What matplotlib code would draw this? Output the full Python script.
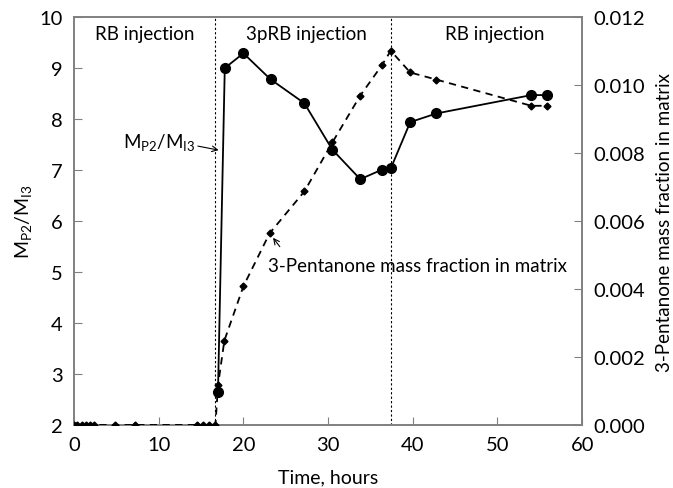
import matplotlib
matplotlib.use('Agg')
import matplotlib.pyplot as plt
from matplotlib.ticker import FormatStrFormatter

plt.rcParams['font.family'] = ['Lato', 'DejaVu Sans']
plt.rcParams['mathtext.default'] = 'regular'

# M_P2/M_I3 ratio (circles, solid)
ratio_t = [17.0, 17.8, 20.0, 23.2, 27.2, 30.5, 33.8, 36.4, 37.4, 39.7, 42.8, 54.0, 55.9]
ratio_v = [2.65, 9.0, 9.29, 8.78, 8.31, 7.40, 6.82, 7.01, 7.03, 7.94, 8.11, 8.47, 8.47]

# 3-pentanone mass fraction (diamonds, dashed)
pent_t = [0.0, 0.4, 0.9, 1.4, 1.9, 2.3, 4.8, 7.2, 14.5, 15.2, 15.9, 16.7,
          17.0, 17.75, 20.0, 23.1, 27.2, 30.5, 33.8, 36.4, 37.4, 39.7, 42.8, 54.0, 55.9]
pent_v = [0, 0, 0, 0, 0, 0, 0, 0, 0, 0, 0, 0,
          0.00116, 0.00248, 0.00408, 0.00564, 0.00687, 0.00831, 0.00969,
          0.01060, 0.01101, 0.01037, 0.01016, 0.00939, 0.00939]

switch_times = [16.7, 37.4]
phase_labels = ['RB injection', '3pRB injection', 'RB injection']
phase_x = [8.4, 27.4, 49.7]

fig = plt.figure(figsize=(6.73, 4.89), dpi=100)
ax = fig.add_axes([0.110, 0.129, 0.755, 0.834])
ax2 = ax.twinx()

ax.plot(ratio_t, ratio_v, '-o', color='black', lw=1.3, ms=7, zorder=3)
ax2.plot(pent_t, pent_v, '--D', color='black', lw=1.3, ms=3.5, dashes=(4, 3), zorder=3)

for t in switch_times:
    ax.axvline(t, color='black', lw=0.8, ls=(0, (2, 2)))

for x, lab in zip(phase_x, phase_labels):
    ax.text(x, 9.67, lab, ha='center', va='center', fontsize=13.5)

ax.set_xlim(0, 60)
ax.set_ylim(2, 10)
ax2.set_ylim(0, 0.012)
ax.set_xticks(range(0, 61, 10))
ax.set_yticks(range(2, 11))
ax2.set_yticks([0, 0.002, 0.004, 0.006, 0.008, 0.010, 0.012])
ax2.yaxis.set_major_formatter(FormatStrFormatter('%.3f'))

for a in (ax, ax2):
    a.tick_params(direction='in', labelsize=14.5, length=6, color='#808080', pad=8)
    for s in a.spines.values():
        s.set_color('#808080')
        s.set_linewidth(1.2)

ax.set_xlabel('Time, hours', fontsize=14, labelpad=11)
ax.set_ylabel('M$_{P2}$/M$_{I3}$', fontsize=14)
ax2.set_ylabel('3-Pentanone mass fraction in matrix', fontsize=13.5, labelpad=8)

ax.text(10.0, 7.55, 'M$_{P2}$/M$_{I3}$', ha='center', va='center', fontsize=13.5)
ax.annotate('', xy=(17.4, 7.38), xytext=(14.3, 7.48),
            arrowprops=dict(arrowstyle='->', color='black', lw=0.8))
ax2.text(22.9, 0.00468, '3-Pentanone mass fraction in matrix',
         ha='left', va='center', fontsize=13.5)
ax2.annotate('', xy=(23.3, 0.00557), xytext=(24.5, 0.00518),
             arrowprops=dict(arrowstyle='->', color='black', lw=0.8))

fig.savefig('out.png', dpi=100)
